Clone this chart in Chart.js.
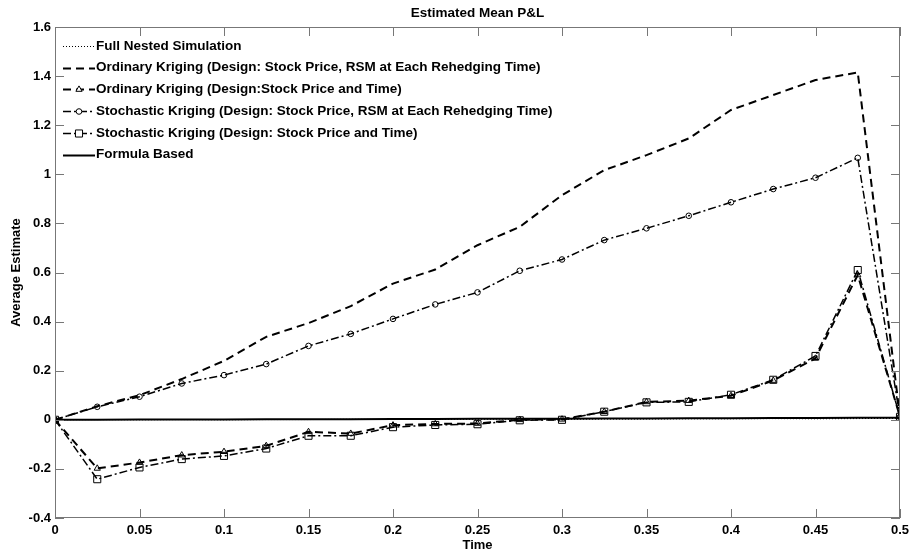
<!DOCTYPE html>
<html>
<head>
<meta charset="utf-8">
<script src="https://cdn.jsdelivr.net/npm/chart.js@4.4.1/dist/chart.umd.min.js"></script>
<style>
    html, body { margin: 0; padding: 0; background: #fff; }
</style>
</head>
<body>
<canvas id="graph" width="910" height="555"></canvas>
<script>
// time points (rehedging times)
const times = [0, 0.025, 0.05, 0.075, 0.1, 0.125, 0.15, 0.175, 0.2, 0.225, 0.25,
               0.275, 0.3, 0.325, 0.35, 0.375, 0.4, 0.425, 0.45, 0.475, 0.5];

const fullNested = [0, 0.001, 0, 0.001, 0, 0.001, 0.001, 0.002, 0.001, 0.002, 0.002,
                    0.003, 0.002, 0.003, 0.003, 0.004, 0.004, 0.005, 0.004, 0.005, 0.006];
const okRsm = [0, 0.055, 0.10, 0.166, 0.24, 0.338, 0.394, 0.463, 0.555, 0.612, 0.711,
               0.786, 0.915, 1.017, 1.078, 1.146, 1.262, 1.323, 1.384, 1.415, 0.012];
const okTime = [0, -0.198, -0.174, -0.144, -0.130, -0.106, -0.049, -0.056, -0.022, -0.017, -0.015,
                0.0, 0.002, 0.033, 0.073, 0.078, 0.098, 0.160, 0.250, 0.590, 0.012];
const skRsm = [0, 0.053, 0.094, 0.148, 0.182, 0.227, 0.301, 0.350, 0.411, 0.470, 0.519,
               0.607, 0.653, 0.732, 0.780, 0.831, 0.886, 0.940, 0.986, 1.067, 0.012];
const skTime = [0, -0.242, -0.194, -0.160, -0.147, -0.117, -0.065, -0.065, -0.030, -0.021, -0.018,
                -0.002, 0.0, 0.033, 0.071, 0.073, 0.102, 0.163, 0.260, 0.610, 0.012];
const formula = [0, 0, 0.001, 0.001, 0.001, 0.002, 0.002, 0.002, 0.003, 0.003, 0.004,
                 0.004, 0.004, 0.005, 0.005, 0.006, 0.006, 0.007, 0.007, 0.008, 0.008];

const seriesNames = [
    'Full Nested Simulation',
    'Ordinary Kriging (Design: Stock Price, RSM at Each Rehedging Time)',
    'Ordinary Kriging (Design:Stock Price and Time)',
    'Stochastic Kriging (Design: Stock Price, RSM at Each Rehedging Time)',
    'Stochastic Kriging (Design: Stock Price and Time)',
    'Formula Based'
];

const xTickValues = [0, 0.05, 0.1, 0.15, 0.2, 0.25, 0.3, 0.35, 0.4, 0.45, 0.5];
const xTickLabels = ['0', '0.05', '0.1', '0.15', '0.2', '0.25', '0.3', '0.35', '0.4', '0.45', '0.5'];
const yTickValues = [-0.4, -0.2, 0, 0.2, 0.4, 0.6, 0.8, 1, 1.2, 1.4, 1.6];
const yTickLabels = ['-0.4', '-0.2', '0', '0.2', '0.4', '0.6', '0.8', '1', '1.2', '1.4', '1.6'];

const chartTitle = 'Estimated Mean P&L';
const fam = '"Liberation Sans", Arial, sans-serif';

function points(values) {
    return values.map((v, i) => ({x: times[i], y: v}));
}

const DASH = [8, 5];
const DASHDOT = [8, 3, 2, 3];

let styles = [
    {dash: [1, 2], width: 1, marker: false},
    {dash: DASH, width: 2, marker: false},
    {dash: DASH, width: 2, marker: 'triangle', radius: 3.6},
    {dash: DASHDOT, width: 1.5, marker: 'circle', radius: 2.8},
    {dash: DASHDOT, width: 1.5, marker: 'rect', radius: 5},
    {dash: [], width: 2, marker: false}
];

let allValues = [fullNested, okRsm, okTime, skRsm, skTime, formula];

let datasets = allValues.map((vals, i) => ({
    label: seriesNames[i],
    data: points(vals),
    borderColor: '#000',
    borderWidth: styles[i].width,
    borderDash: styles[i].dash,
    pointStyle: styles[i].marker || 'circle',
    pointRadius: styles[i].marker ? styles[i].radius : 0,
    pointBorderWidth: 1,
    pointBorderColor: '#000',
    pointBackgroundColor: 'rgba(0,0,0,0)',
    fill: false,
    tension: 0
}));

// frame, inward ticks, title and legend drawn the MATLAB way
let decor = {
    id: 'decor',
    afterDraw(chart) {
        let ctx = chart.ctx;
        let a = chart.chartArea;
        let xs = chart.scales.x, ys = chart.scales.y;
        ctx.save();
        ctx.strokeStyle = '#777';
        ctx.lineWidth = 1;
        ctx.strokeRect(a.left + 0.5, a.top + 0.5, a.right - a.left - 1, a.bottom - a.top - 1);
        ctx.beginPath();
        xTickValues.forEach(v => {
            let px = Math.round(xs.getPixelForValue(v)) + 0.5;
            ctx.moveTo(px, a.bottom); ctx.lineTo(px, a.bottom - 9);
            ctx.moveTo(px, a.top); ctx.lineTo(px, a.top + 9);
        });
        yTickValues.forEach(v => {
            let py = Math.round(ys.getPixelForValue(v)) + 0.5;
            ctx.moveTo(a.left, py); ctx.lineTo(a.left + 9, py);
            ctx.moveTo(a.right, py); ctx.lineTo(a.right - 9, py);
        });
        ctx.stroke();

        // title
        ctx.fillStyle = '#000';
        ctx.font = 'bold 13.5px ' + fam;
        ctx.textAlign = 'center';
        ctx.textBaseline = 'middle';
        ctx.fillText(chartTitle, (a.left + a.right) / 2, 13);

        // legend
        ctx.textAlign = 'left';
        for (let i = 0; i < seriesNames.length; i++) {
            let y = 46 + i * 21.7;
            let st = styles[i];
            ctx.strokeStyle = '#000';
            ctx.lineWidth = st.width;
            ctx.setLineDash(st.dash);
            ctx.beginPath();
            ctx.moveTo(63, Math.round(y) + 0.5);
            ctx.lineTo(95, Math.round(y) + 0.5);
            ctx.stroke();
            ctx.setLineDash([]);
            if (st.marker) {
                ctx.lineWidth = 1;
                ctx.fillStyle = '#fff';
                Chart.helpers.drawPoint(ctx, {pointStyle: st.marker, radius: st.radius, rotation: 0, borderWidth: 1}, 79, Math.round(y) + 0.5);
            }
            ctx.fillStyle = '#000';
            ctx.fillText(seriesNames[i], 96, y);
        }
        ctx.restore();
    }
};

new Chart(document.getElementById('graph').getContext('2d'), {
    type: 'line',
    data: {datasets: datasets},
    options: {
        responsive: false,
        animation: false,
        devicePixelRatio: 1,
        layout: {padding: {top: 27, right: 0, left: 0, bottom: 0}},
        plugins: {
            legend: {display: false},
            tooltip: {enabled: false},
            title: {display: false}
        },
        scales: {
            x: {
                type: 'linear',
                min: 0,
                max: 0.5,
                afterFit: s => { s.height = 37; s.paddingRight = 10; s.paddingLeft = 0; },
                afterBuildTicks: s => { s.ticks = xTickValues.map(v => ({value: v})); },
                grid: {drawOnChartArea: false, drawTicks: false},
                border: {display: false},
                ticks: {
                    padding: 5,
                    color: '#000',
                    maxRotation: 0,
                    font: {family: fam, size: 13, weight: 'bold'},
                    callback: (v, i) => xTickLabels[i]
                },
                title: {
                    display: true,
                    text: 'Time',
                    color: '#000',
                    padding: {top: 0, bottom: 2},
                    font: {family: fam, size: 13, weight: 'bold'}
                }
            },
            y: {
                type: 'linear',
                min: -0.4,
                max: 1.6,
                afterFit: s => { s.width = 55; },
                afterBuildTicks: s => { s.ticks = yTickValues.map(v => ({value: v})); },
                grid: {drawOnChartArea: false, drawTicks: false},
                border: {display: false},
                ticks: {
                    padding: 4,
                    color: '#000',
                    font: {family: fam, size: 13, weight: 'bold'},
                    callback: (v, i) => yTickLabels[i]
                },
                title: {
                    display: true,
                    text: 'Average Estimate',
                    color: '#000',
                    padding: {top: 9, bottom: 0},
                    font: {family: fam, size: 13, weight: 'bold'}
                }
            }
        }
    },
    plugins: [decor]
});
</script>
</body>
</html>
